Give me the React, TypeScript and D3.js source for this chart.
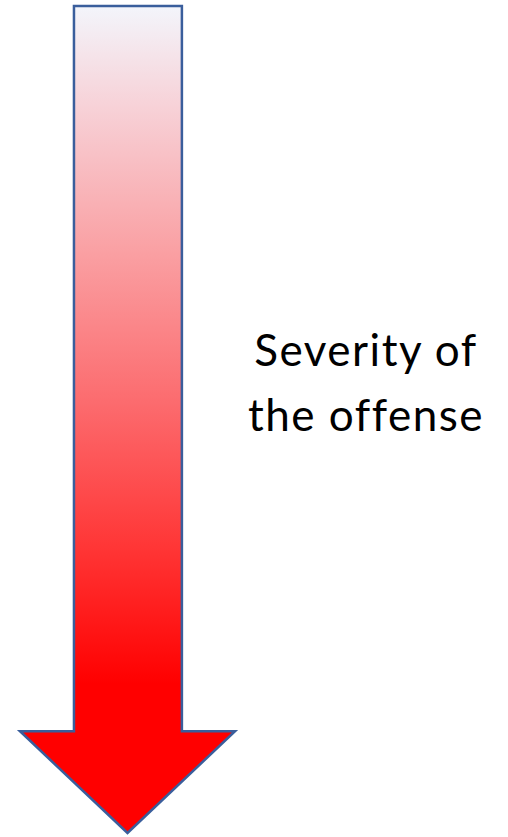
import React from "react";
import * as d3 from "d3";

// gradient stops: position along the arrow (0 = top, 1 = tip) and colour
const stopOffsets = [0, 0.12, 0.3, 0.48, 0.66, 0.82, 1];
const stopColors = ["#f3f5fb", "#f7d2d8", "#fa9fa2", "#fc6b6e", "#ff3434", "#ff0000", "#ff0000"];

// label lines
const labelLines = ["Severity of", "the offense"];

// arrow outline in unit coords (x: 0..1 across head, y: 0..1 top to tip)
const arrowX = [0.251, 0.753, 0.753, 1, 0.5, 0, 0.251];
const arrowY = [0, 0, 0.877, 0.877, 1, 0.877, 0.877];

const W = 508;
const H = 837;

export default function App() {
  const x = d3.scaleLinear().domain([0, 1]).range([20, 235]);
  const y = d3.scaleLinear().domain([0, 1]).range([6, 833]);

  const pts: [number, number][] = arrowX.map((d, i) => [x(d), y(arrowY[i])]);
  const path = d3.line()(pts) + "Z";

  return (
    <svg
      width={W}
      height={H}
      style={{ position: "absolute", left: 0, top: 0, display: "block", background: "#fff" }}
    >
      <defs>
        <linearGradient id="sev" x1="0" y1={y(0)} x2="0" y2={y(1)} gradientUnits="userSpaceOnUse">
          {stopOffsets.map((o, i) => (
            <stop key={i} offset={o} stopColor={stopColors[i]} />
          ))}
        </linearGradient>
      </defs>
      <path d={path} fill="url(#sev)" stroke="#3a5e9c" strokeWidth={2.5} strokeLinejoin="miter" />
      <text
        x={366}
        y={366}
        textAnchor="middle"
        fontFamily="Lato, 'Open Sans', sans-serif"
        fontSize={44}
        letterSpacing={1.5}
        fill="#000"
      >
        {labelLines.map((t, i) => (
          <tspan key={i} x={366} dy={i === 0 ? 0 : 65}>
            {t}
          </tspan>
        ))}
      </text>
    </svg>
  );
}
